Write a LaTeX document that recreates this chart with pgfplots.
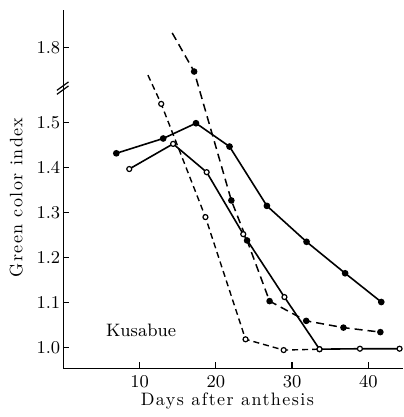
\documentclass[border=0pt]{standalone}
\usepackage{fontspec}
\newfontfamily\spaced{lmroman10-regular.otf}[LetterSpace=8]
\usepackage{pgfplots}
\pgfplotsset{compat=1.18}

\begin{document}
\begin{tikzpicture}
\begin{axis}[
    scale only axis,
    width=169.85pt, height=179.25pt,
    axis lines=left,
    axis line style={-, line width=0.8pt},
    xmin=0, xmax=44.55,
    ymin=0.953, ymax=1.884,
    % broken y axis: values above the break are shifted down
    y coord trafo/.code={\pgfmathparse{ifthenelse(#1>1.6,#1-0.133,#1)}},
    y coord inv trafo/.code={\pgfmathparse{ifthenelse(#1>1.577,#1+0.133,#1)}},
    xtick={10,20,30,40},
    ytick={1.0,1.1,1.2,1.3,1.4,1.5,1.8},
    yticklabels={1.0,1.1,1.2,1.3,1.4,1.5,1.8},
    tick align=inside,
    major tick length=3pt,
    tick style={line width=0.6pt, black},
    tick label style={font=\fontsize{9}{10}\selectfont},
    yticklabel style={xshift=2pt},
    xticklabel style={yshift=0pt},
    xlabel={Days after anthesis},
    ylabel={Green color index},
    every axis x label/.style={at={(axis description cs:0.483,0)}, anchor=center, yshift=-16.2pt,
        font=\spaced\fontsize{9}{10}\selectfont},
    every axis y label/.style={at={(axis description cs:0,0.477)}, anchor=center, rotate=90, yshift=23.5pt,
        font=\spaced\fontsize{9}{10}\selectfont},
    clip=false,
]
% solid, filled
\addplot[black, line width=0.8pt, mark=*, mark size=1.25pt] coordinates {
    (6.95,1.432) (13.1,1.465) (17.4,1.499) (21.8,1.447)
    (26.7,1.315) (31.9,1.235) (36.96,1.165) (41.7,1.101)
};
% solid, open
\addplot[black, line width=0.8pt, mark=*, mark size=1.25pt, mark options={fill=white, line width=0.6pt}] coordinates {
    (8.65,1.397) (14.4,1.453) (18.8,1.390) (23.6,1.252)
    (29.0,1.112) (33.6,0.996) (38.9,0.997) (44.1,0.997)
};
% dashed, open
\addplot[black, line width=0.7pt, dash pattern=on 3pt off 2pt, mark=*, mark size=1.25pt,
    mark options={solid, fill=white, line width=0.6pt}, mark indices={2,3,4,5,6}] coordinates {
    (11.1,1.739) (12.84,1.542) (18.64,1.290) (23.9,1.018) (28.9,0.994) (33.6,0.996)
};
% dashed, filled
\addplot[black, line width=0.75pt, dash pattern=on 4pt off 2.5pt, mark=*, mark size=1.25pt,
    mark options={solid}, mark indices={2,3,4,5,6,7,8}] coordinates {
    (14.28,1.833) (17.16,1.747) (22.04,1.327) (24.1,1.238)
    (27.05,1.103) (31.86,1.059) (36.74,1.044) (41.58,1.034)
};
\node[font=\fontsize{9}{10}\selectfont] at (axis cs:10.2,1.039) {Kusabue};
% break marks on the y axis
\draw[line width=0.6pt] ([xshift=-3.2pt,yshift=-3.1pt]rel axis cs:0,0.782) -- ++(5.8pt,4.2pt);
\draw[line width=0.6pt] ([xshift=-3.2pt,yshift=-1.1pt]rel axis cs:0,0.782) -- ++(5.8pt,4.2pt);
\end{axis}
\pgfresetboundingbox
\path ([xshift=-31.65pt,yshift=-24.25pt]current axis.south west) rectangle ([yshift=5pt]current axis.north east);
\end{tikzpicture}
\end{document}
